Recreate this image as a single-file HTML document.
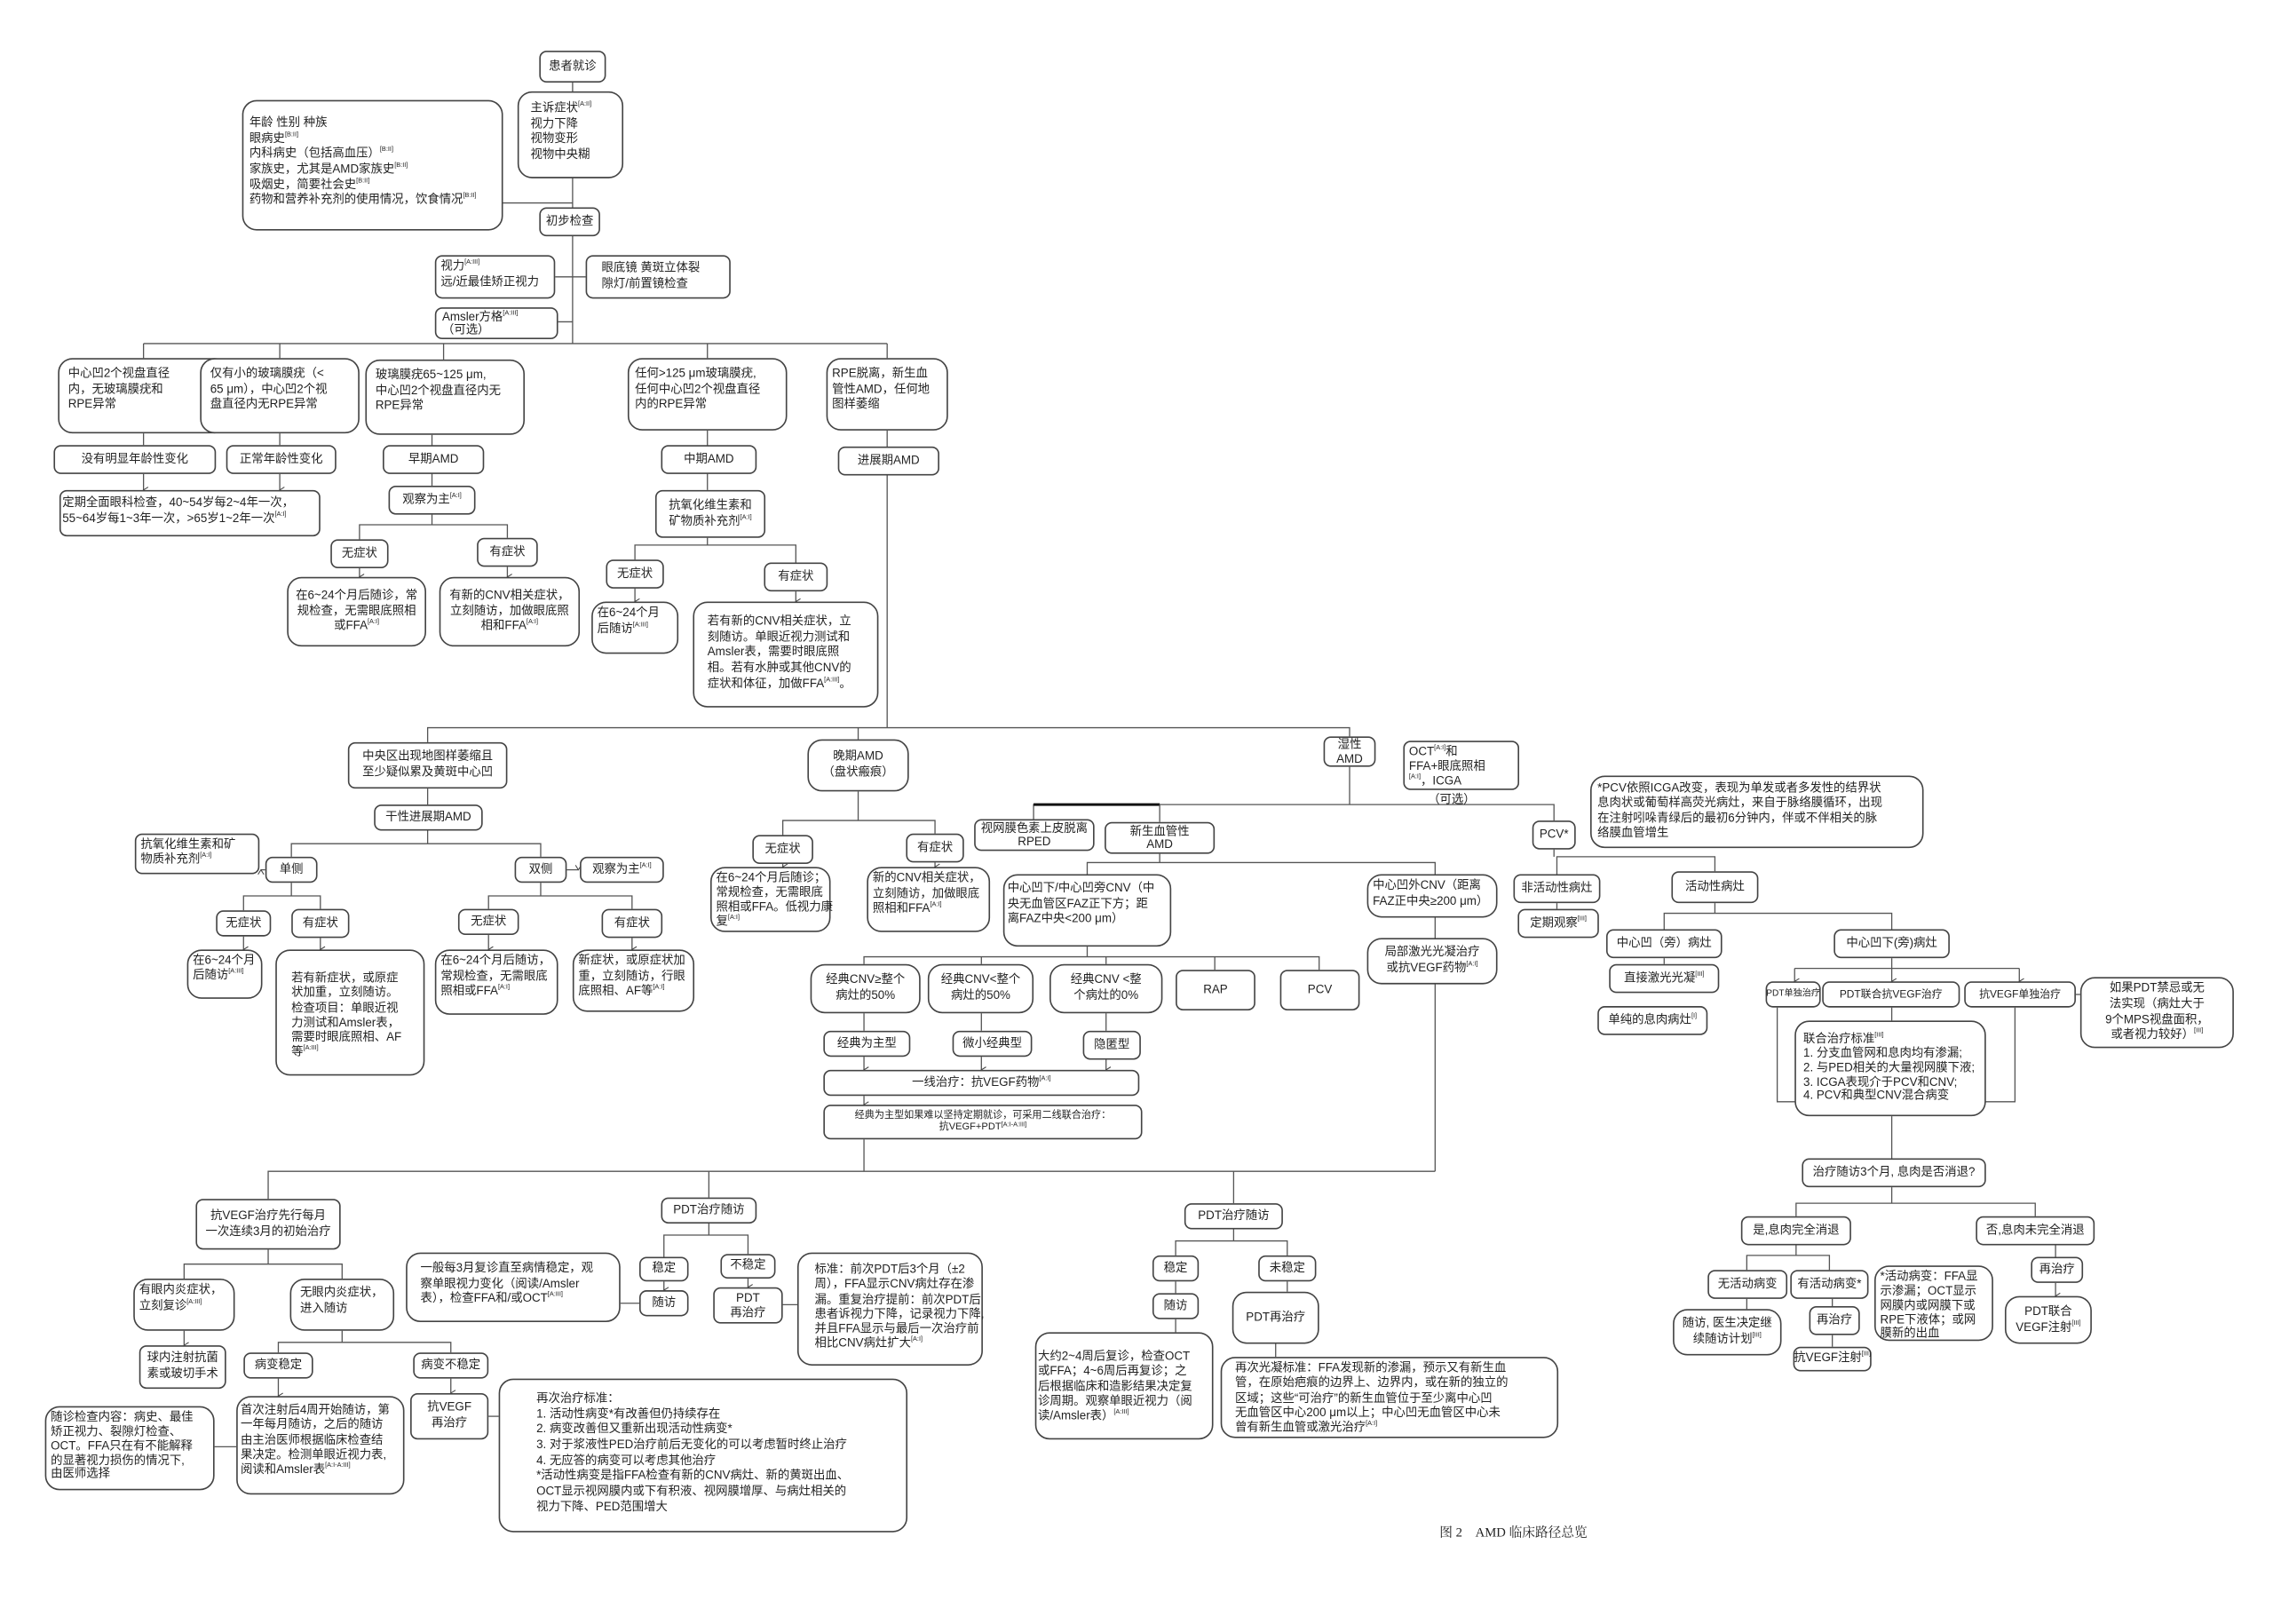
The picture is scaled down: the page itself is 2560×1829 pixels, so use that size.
<!DOCTYPE html>
<html><head><meta charset="utf-8">
<style>
html,body{margin:0;padding:0;background:#fff;}
body{width:2560px;height:1829px;overflow:hidden;position:relative;}
#w{position:absolute;left:0;top:0;width:1568px;height:1120px;transform:scale(1.63265);transform-origin:0 0;font-family:"Liberation Sans","Noto Sans CJK SC",sans-serif;color:#222;}
.b{position:absolute;box-sizing:border-box;border:1px solid #444;border-radius:5px;background:#fff;font-size:8.2px;line-height:1.3;padding:2px 3px;white-space:nowrap;}
.c{text-align:center;display:flex;align-items:center;justify-content:center;padding:1px;}
.c>span{display:block;}
.s{font-size:7.3px;}
.r{border-radius:10px;}
sup{font-size:4.5px;vertical-align:top;line-height:1;}
svg{position:absolute;left:0;top:0;}
svg line,svg polyline{stroke:#555;stroke-width:0.8;fill:none;}
.cap{position:absolute;left:993px;top:1050px;font-family:"Liberation Serif","Noto Serif CJK SC",serif;font-size:9px;}
</style></head><body><div id="w">
<svg width="1568" height="1120">
<defs><marker id="a" markerWidth="6" markerHeight="6" refX="3" refY="5" orient="auto"><polyline points="0.5,1 3,5 5.5,1" style="stroke:#444;stroke-width:0.8;fill:none"/></marker></defs>
<line x1="395" y1="57" x2="395" y2="237"/><line x1="347" y1="140" x2="395" y2="140"/>
<line x1="383" y1="191" x2="404" y2="191"/><line x1="385" y1="222" x2="395" y2="222"/>
<line x1="99" y1="237" x2="612" y2="237"/>
<line x1="99" y1="237" x2="99" y2="247"/><line x1="193" y1="237" x2="193" y2="247"/><line x1="306" y1="237" x2="306" y2="248"/><line x1="488" y1="237" x2="488" y2="247"/><line x1="612" y1="237" x2="612" y2="247"/>
<line x1="99" y1="299" x2="99" y2="307"/><line x1="99" y1="327" x2="99" y2="338" marker-end="url(#a)"/>
<line x1="193" y1="299" x2="193" y2="307"/><line x1="193" y1="327" x2="193" y2="338" marker-end="url(#a)"/>
<line x1="298" y1="300" x2="298" y2="335"/><polyline points="248,372 248,362 350,362 350,371"/><line x1="298" y1="355" x2="298" y2="362"/>
<line x1="248" y1="392" x2="248" y2="398" marker-end="url(#a)"/><line x1="350" y1="391" x2="350" y2="398" marker-end="url(#a)"/>
<line x1="488" y1="297" x2="488" y2="338"/><polyline points="438,386 438,376 549,376 549,388"/><line x1="488" y1="371" x2="488" y2="376"/>
<line x1="438" y1="406" x2="438" y2="415" marker-end="url(#a)"/><line x1="549" y1="408" x2="549" y2="415" marker-end="url(#a)"/>
<line x1="612" y1="297" x2="612" y2="502"/>
<polyline points="295,512 295,502 931,502 931,508"/><line x1="592" y1="502" x2="592" y2="510"/>
<line x1="295" y1="544" x2="295" y2="555"/><line x1="295" y1="573" x2="295" y2="582"/><polyline points="201,591 201,582 373,582 373,591"/>
<line x1="183" y1="600" x2="180" y2="600" marker-end="url(#a)"/><line x1="391" y1="600" x2="399" y2="600" marker-end="url(#a)"/>
<line x1="201" y1="609" x2="201" y2="618"/><polyline points="168,628 168,618 221,618 221,627"/>
<line x1="168" y1="646" x2="168" y2="655" marker-end="url(#a)"/><line x1="221" y1="647" x2="221" y2="655" marker-end="url(#a)"/>
<line x1="373" y1="609" x2="373" y2="618"/><polyline points="337,627 337,618 436,618 436,627"/>
<line x1="337" y1="645" x2="337" y2="655" marker-end="url(#a)"/><line x1="436" y1="647" x2="436" y2="655" marker-end="url(#a)"/>
<line x1="592" y1="546" x2="592" y2="566"/><polyline points="540,576 540,566 645,566 645,575"/>
<line x1="540" y1="596" x2="540" y2="598" marker-end="url(#a)"/><line x1="645" y1="595" x2="645" y2="598" marker-end="url(#a)"/>
<line x1="931" y1="529" x2="931" y2="555"/><polyline points="713,565 713,555 1072,555 1072,566"/><line x1="713" y1="555" x2="800" y2="555" style="stroke:#111;stroke-width:1.8"/><line x1="800" y1="555" x2="800" y2="567"/>
<line x1="800" y1="589" x2="800" y2="595"/><polyline points="750,603 750,595 990,595 990,603"/>
<line x1="750" y1="653" x2="750" y2="660"/><polyline points="596,665 596,660 910,660 910,669"/><line x1="677" y1="660" x2="677" y2="665"/><line x1="763" y1="660" x2="763" y2="665"/><line x1="838" y1="660" x2="838" y2="669"/>
<line x1="596" y1="699" x2="596" y2="711"/><line x1="677" y1="699" x2="677" y2="711"/><line x1="763" y1="699" x2="763" y2="711"/>
<line x1="596" y1="729" x2="596" y2="738" marker-end="url(#a)"/><line x1="677" y1="729" x2="677" y2="738" marker-end="url(#a)"/><line x1="763" y1="731" x2="763" y2="738" marker-end="url(#a)"/>
<line x1="596" y1="756" x2="596" y2="762" marker-end="url(#a)"/><line x1="596" y1="786" x2="596" y2="808"/>
<line x1="990" y1="633" x2="990" y2="808"/><polyline points="185,827 185,808 990,808"/><line x1="489" y1="808" x2="489" y2="826"/><line x1="851" y1="808" x2="851" y2="830"/>
<line x1="1072" y1="586" x2="1072" y2="591"/><polyline points="1074,603 1074,591 1183,591 1183,601"/><line x1="1074" y1="623" x2="1074" y2="627"/>
<line x1="1183" y1="623" x2="1183" y2="630"/><polyline points="1148,641 1148,630 1305,630 1305,641"/><line x1="1148" y1="661" x2="1148" y2="665"/>
<line x1="1305" y1="661" x2="1305" y2="668"/><line x1="1238" y1="668" x2="1393" y2="668"/>
<line x1="1238" y1="668" x2="1238" y2="677" marker-end="url(#a)"/><line x1="1305" y1="668" x2="1305" y2="677" marker-end="url(#a)"/><line x1="1393" y1="668" x2="1393" y2="677" marker-end="url(#a)"/>
<polyline points="1226,695 1226,760 1390,760 1390,695"/><line x1="1305" y1="695" x2="1305" y2="704"/><line x1="1305" y1="770" x2="1305" y2="799"/><line x1="1432" y1="686" x2="1435" y2="686"/>
<line x1="1305" y1="819" x2="1305" y2="830"/><polyline points="1239,839 1239,830 1404,830 1404,839"/>
<line x1="1239" y1="859" x2="1239" y2="866"/><polyline points="1205,876 1205,866 1262,866 1262,876"/>
<line x1="1205" y1="896" x2="1205" y2="903"/><line x1="1264" y1="896" x2="1264" y2="901"/><line x1="1264" y1="921" x2="1264" y2="929"/>
<line x1="1418" y1="859" x2="1418" y2="867"/><line x1="1418" y1="885" x2="1418" y2="894" marker-end="url(#a)"/>
<line x1="185" y1="862" x2="185" y2="872"/><polyline points="127,882 127,872 236,872 236,882"/><line x1="127" y1="918" x2="127" y2="928" marker-end="url(#a)"/>
<line x1="236" y1="918" x2="236" y2="926"/><polyline points="192,933 192,926 311,926 311,933"/>
<line x1="192" y1="951" x2="192" y2="963" marker-end="url(#a)"/><line x1="311" y1="951" x2="311" y2="961" marker-end="url(#a)"/>
<line x1="148" y1="998" x2="163" y2="998"/><line x1="337" y1="977" x2="344" y2="977"/>
<line x1="489" y1="844" x2="489" y2="852"/><polyline points="458,867 458,852 516,852 516,865"/>
<line x1="458" y1="884" x2="458" y2="890" marker-end="url(#a)"/><line x1="428" y1="899" x2="441" y2="899"/><line x1="516" y1="882" x2="516" y2="888" marker-end="url(#a)"/><line x1="540" y1="900" x2="550" y2="900"/>
<line x1="851" y1="848" x2="851" y2="856"/><polyline points="811,866 811,856 888,856 888,866"/>
<line x1="811" y1="884" x2="811" y2="892"/><line x1="811" y1="910" x2="811" y2="919"/><line x1="888" y1="884" x2="888" y2="891"/><line x1="880" y1="927" x2="880" y2="936"/>
</svg>

<div class="b c" style="left:372px;top:35px;width:46px;height:22px"><span>患者就诊</span></div>
<div class="b r" style="left:357px;top:63px;width:73px;height:60px;padding:6px 8px">主诉症状<sup>[A:II]</sup><br>视力下降<br>视物变形<br>视物中央糊</div>
<div class="b r" style="left:167px;top:69px;width:180px;height:90px;padding:10px 4px">年龄 性别 种族<br>眼病史<sup>[B:II]</sup><br>内科病史（包括高血压）<sup>[B:II]</sup><br>家族史，尤其是AMD家族史<sup>[B:II]</sup><br>吸烟史，简要社会史<sup>[B:II]</sup><br>药物和营养补充剂的使用情况，饮食情况<sup>[B:II]</sup></div>
<div class="b c" style="left:372px;top:143px;width:42px;height:20px"><span>初步检查</span></div>
<div class="b" style="left:300px;top:176px;width:83px;height:30px">视力<sup>[A:III]</sup><br>远/近最佳矫正视力</div>
<div class="b" style="left:404px;top:176px;width:100px;height:30px;padding:3px 10px">眼底镜 黄斑立体裂<br>隙灯/前置镜检查</div>
<div class="b" style="left:300px;top:212px;width:85px;height:22px;line-height:1.1;padding:1px 4px">Amsler方格<sup>[A:III]</sup><br>（可选）</div>

<div class="b r" style="left:40px;top:247px;width:118px;height:52px;padding:5px 6px">中心凹2个视盘直径<br>内，无玻璃膜疣和<br>RPE异常</div>
<div class="b r" style="left:138px;top:247px;width:110px;height:52px;padding:5px 6px">仅有小的玻璃膜疣（&lt;<br>65 μm），中心凹2个视<br>盘直径内无RPE异常</div>
<div class="b r" style="left:252px;top:248px;width:110px;height:52px;padding:5px 6px">玻璃膜疣65~125 μm,<br>中心凹2个视盘直径内无<br>RPE异常</div>
<div class="b r" style="left:433px;top:247px;width:110px;height:50px;padding:5px 4px">任何&gt;125 μm玻璃膜疣,<br>任何中心凹2个视盘直径<br>内的RPE异常</div>
<div class="b r" style="left:570px;top:247px;width:84px;height:50px;padding:5px 3px">RPE脱离，新生血<br>管性AMD，任何地<br>图样萎缩</div>

<div class="b c" style="left:37px;top:307px;width:112px;height:20px"><span>没有明显年龄性变化</span></div>
<div class="b c" style="left:156px;top:307px;width:76px;height:20px"><span>正常年龄性变化</span></div>
<div class="b c" style="left:264px;top:307px;width:70px;height:20px"><span>早期AMD</span></div>
<div class="b c" style="left:456px;top:307px;width:66px;height:20px"><span>中期AMD</span></div>
<div class="b c" style="left:578px;top:308px;width:70px;height:20px"><span>进展期AMD</span></div>
<div class="b" style="left:41px;top:338px;width:180px;height:32px;padding:3px 1px">定期全面眼科检查，40~54岁每2~4年一次，<br>55~64岁每1~3年一次，&gt;65岁1~2年一次<sup>[A:I]</sup></div>
<div class="b c" style="left:268px;top:335px;width:60px;height:20px"><span>观察为主<sup>[A:I]</sup></span></div>
<div class="b c" style="left:452px;top:338px;width:76px;height:33px"><span>抗氧化维生素和<br>矿物质补充剂<sup>[A:I]</sup></span></div>
<div class="b c" style="left:228px;top:372px;width:40px;height:20px"><span>无症状</span></div>
<div class="b c" style="left:329px;top:371px;width:42px;height:20px"><span>有症状</span></div>
<div class="b c r" style="left:198px;top:398px;width:96px;height:48px"><span>在6~24个月后随诊，常<br>规检查，无需眼底照相<br>或FFA<sup>[A:I]</sup></span></div>
<div class="b c r" style="left:303px;top:398px;width:97px;height:48px"><span>有新的CNV相关症状，<br>立刻随访，加做眼底照<br>相和FFA<sup>[A:I]</sup></span></div>
<div class="b c" style="left:418px;top:386px;width:40px;height:20px"><span>无症状</span></div>
<div class="b c" style="left:527px;top:388px;width:44px;height:20px"><span>有症状</span></div>
<div class="b r" style="left:408px;top:415px;width:60px;height:36px">在6~24个月<br>后随访<sup>[A:III]</sup></div>
<div class="b r" style="left:478px;top:415px;width:128px;height:73px;padding:8px 9px">若有新的CNV相关症状，立<br>刻随访。单眼近视力测试和<br>Amsler表，需要时眼底照<br>相。若有水肿或其他CNV的<br>症状和体征，加做FFA<sup>[A:III]</sup>。</div>

<div class="b c" style="left:240px;top:512px;width:110px;height:32px"><span>中央区出现地图样萎缩且<br>至少疑似累及黄斑中心凹</span></div>
<div class="b c r" style="left:557px;top:510px;width:70px;height:36px"><span>晚期AMD<br>（盘状瘢痕）</span></div>
<div class="b c" style="left:913px;top:508px;width:36px;height:21px;line-height:1.1"><span>湿性<br>AMD</span></div>
<div class="b" style="left:968px;top:511px;width:80px;height:34px;line-height:1.2">OCT<sup>[A:I]</sup>和<br>FFA+眼底照相<br><sup>[A:I]</sup>，ICGA</div>
<div style="position:absolute;left:985px;top:545px;font-size:8.2px">（可选）</div>
<div class="b c" style="left:258px;top:555px;width:75px;height:18px"><span>干性进展期AMD</span></div>
<div class="b" style="left:93px;top:575px;width:86px;height:28px;line-height:1.2">抗氧化维生素和矿<br>物质补充剂<sup>[A:I]</sup></div>
<div class="b c" style="left:183px;top:591px;width:36px;height:18px"><span>单侧</span></div>
<div class="b c" style="left:355px;top:591px;width:36px;height:18px"><span>双侧</span></div>
<div class="b c" style="left:400px;top:591px;width:58px;height:18px"><span>观察为主<sup>[A:I]</sup></span></div>
<div class="b c" style="left:149px;top:628px;width:38px;height:18px"><span>无症状</span></div>
<div class="b c" style="left:201px;top:627px;width:40px;height:20px"><span>有症状</span></div>
<div class="b c" style="left:316px;top:627px;width:42px;height:18px"><span>无症状</span></div>
<div class="b c" style="left:415px;top:627px;width:42px;height:20px"><span>有症状</span></div>
<div class="b r" style="left:129px;top:655px;width:52px;height:34px;line-height:1.2">在6~24个月<br>后随访<sup>[A:III]</sup></div>
<div class="b r" style="left:190px;top:655px;width:103px;height:87px;padding:14px 10px;line-height:1.25">若有新症状，或原症<br>状加重，立刻随访。<br>检查项目：单眼近视<br>力测试和Amsler表，<br>需要时眼底照相、AF<br>等<sup>[A:III]</sup></div>
<div class="b r" style="left:300px;top:655px;width:85px;height:45px">在6~24个月后随访，<br>常规检查，无需眼底<br>照相或FFA<sup>[A:I]</sup></div>
<div class="b r" style="left:395px;top:655px;width:84px;height:43px">新症状，或原症状加<br>重，立刻随访，行眼<br>底照相、AF等<sup>[A:I]</sup></div>
<div class="b c" style="left:519px;top:576px;width:42px;height:20px"><span>无症状</span></div>
<div class="b c" style="left:625px;top:575px;width:40px;height:20px"><span>有症状</span></div>
<div class="b r" style="left:490px;top:598px;width:83px;height:45px;line-height:1.2">在6~24个月后随诊；<br>常规检查，无需眼底<br>照相或FFA。低视力康<br>复<sup>[A:I]</sup></div>
<div class="b r" style="left:598px;top:598px;width:85px;height:45px">新的CNV相关症状，<br>立刻随访，加做眼底<br>照相和FFA<sup>[A:I]</sup></div>

<div class="b c" style="left:672px;top:565px;width:83px;height:22px;line-height:1.1"><span>视网膜色素上皮脱离<br>RPED</span></div>
<div class="b c" style="left:762px;top:567px;width:76px;height:22px;line-height:1.1"><span>新生血管性<br>AMD</span></div>
<div class="b c" style="left:1057px;top:566px;width:30px;height:20px"><span>PCV*</span></div>
<div class="b r" style="left:1097px;top:535px;width:230px;height:50px;padding:3px 4px;line-height:1.25">*PCV依照ICGA改变，表现为单发或者多发性的结界状<br>息肉状或葡萄样高荧光病灶，来自于脉络膜循环，出现<br>在注射吲哚青绿后的最初6分钟内，伴或不伴相关的脉<br>络膜血管增生</div>
<div class="b r" style="left:692px;top:603px;width:116px;height:50px;padding:4px 2px">中心凹下/中心凹旁CNV（中<br>央无血管区FAZ正下方；距<br>离FAZ中央&lt;200 μm）</div>
<div class="b r" style="left:943px;top:603px;width:90px;height:30px">中心凹外CNV（距离<br>FAZ正中央≥200 μm）</div>
<div class="b c r" style="left:943px;top:647px;width:90px;height:32px"><span>局部激光光凝治疗<br>或抗VEGF药物<sup>[A:I]</sup></span></div>
<div class="b c" style="left:1044px;top:603px;width:60px;height:20px"><span>非活动性病灶</span></div>
<div class="b c" style="left:1047px;top:627px;width:56px;height:20px"><span>定期观察<sup>[III]</sup></span></div>
<div class="b c" style="left:1153px;top:601px;width:60px;height:22px"><span>活动性病灶</span></div>
<div class="b c r" style="left:559px;top:665px;width:76px;height:34px"><span>经典CNV≥整个<br>病灶的50%</span></div>
<div class="b c r" style="left:640px;top:665px;width:73px;height:34px"><span>经典CNV&lt;整个<br>病灶的50%</span></div>
<div class="b c r" style="left:724px;top:665px;width:78px;height:34px"><span>经典CNV &lt;整<br>个病灶的0%</span></div>
<div class="b c" style="left:811px;top:669px;width:55px;height:28px"><span>RAP</span></div>
<div class="b c" style="left:883px;top:669px;width:55px;height:28px"><span>PCV</span></div>
<div class="b c" style="left:568px;top:711px;width:60px;height:18px"><span>经典为主型</span></div>
<div class="b c" style="left:657px;top:711px;width:55px;height:18px"><span>微小经典型</span></div>
<div class="b c" style="left:747px;top:711px;width:40px;height:20px"><span>隐匿型</span></div>
<div class="b c" style="left:568px;top:738px;width:218px;height:18px"><span>一线治疗：抗VEGF药物<sup>[A:I]</sup></span></div>
<div class="b c" style="left:568px;top:762px;width:220px;height:24px;font-size:6.8px;line-height:1.2"><span>经典为主型如果难以坚持定期就诊，可采用二线联合治疗：<br>抗VEGF+PDT<sup>[A:I-A:III]</sup></span></div>

<div class="b c" style="left:1108px;top:641px;width:80px;height:20px"><span>中心凹（旁）病灶</span></div>
<div class="b c" style="left:1265px;top:641px;width:80px;height:20px"><span>中心凹下(旁)病灶</span></div>
<div class="b c" style="left:1110px;top:665px;width:76px;height:20px"><span>直接激光光凝<sup>[III]</sup></span></div>
<div class="b c" style="left:1102px;top:694px;width:76px;height:20px"><span>单纯的息肉病灶<sup>[I]</sup></span></div>
<div class="b c" style="left:1218px;top:677px;width:38px;height:18px;font-size:6.2px"><span>PDT单独治疗</span></div>
<div class="b c s" style="left:1257px;top:677px;width:95px;height:18px"><span>PDT联合抗VEGF治疗</span></div>
<div class="b c s" style="left:1355px;top:677px;width:77px;height:18px"><span>抗VEGF单独治疗</span></div>
<div class="b c r" style="left:1435px;top:674px;width:106px;height:49px"><span>如果PDT禁忌或无<br>法实现（病灶大于<br>9个MPS视盘面积，<br>或者视力较好）<sup>[III]</sup></span></div>
<div class="b r" style="left:1238px;top:704px;width:132px;height:66px;padding:7px 5px;line-height:1.2">联合治疗标准<sup>[III]</sup><br>1. 分支血管网和息肉均有渗漏;<br>2. 与PED相关的大量视网膜下液;<br>3. ICGA表现介于PCV和CNV;<br>4. PCV和典型CNV混合病变</div>
<div class="b c" style="left:1243px;top:799px;width:127px;height:20px"><span>治疗随访3个月, 息肉是否消退?</span></div>
<div class="b c" style="left:1201px;top:839px;width:76px;height:20px"><span>是,息肉完全消退</span></div>
<div class="b c" style="left:1363px;top:839px;width:82px;height:20px"><span>否,息肉未完全消退</span></div>
<div class="b c" style="left:1178px;top:876px;width:55px;height:20px"><span>无活动病变</span></div>
<div class="b c" style="left:1235px;top:876px;width:54px;height:20px"><span>有活动病变*</span></div>
<div class="b c r" style="left:1154px;top:903px;width:75px;height:32px"><span>随访, 医生决定继<br>续随访计划<sup>[III]</sup></span></div>
<div class="b c" style="left:1248px;top:901px;width:35px;height:20px"><span>再治疗</span></div>
<div class="b c" style="left:1237px;top:929px;width:54px;height:17px"><span>抗VEGF注射<sup>[III]</sup></span></div>
<div class="b r" style="left:1293px;top:873px;width:82px;height:52px;line-height:1.2">*活动病变：FFA显<br>示渗漏；OCT显示<br>网膜内或网膜下或<br>RPE下液体；或网<br>膜新的出血</div>
<div class="b c" style="left:1401px;top:867px;width:36px;height:18px"><span>再治疗</span></div>
<div class="b c r" style="left:1383px;top:894px;width:60px;height:33px"><span>PDT联合<br>VEGF注射<sup>[III]</sup></span></div>

<div class="b c" style="left:135px;top:827px;width:100px;height:35px"><span>抗VEGF治疗先行每月<br>一次连续3月的初始治疗</span></div>
<div class="b c" style="left:456px;top:826px;width:66px;height:18px"><span>PDT治疗随访</span></div>
<div class="b c" style="left:817px;top:830px;width:68px;height:18px"><span>PDT治疗随访</span></div>
<div class="b r" style="left:92px;top:882px;width:70px;height:36px">有眼内炎症状，<br>立刻复诊<sup>[A:III]</sup></div>
<div class="b r" style="left:200px;top:882px;width:72px;height:36px;padding:4px 6px">无眼内炎症状，<br>进入随访</div>
<div class="b c" style="left:96px;top:928px;width:60px;height:30px"><span>球内注射抗菌<br>素或玻切手术</span></div>
<div class="b c" style="left:168px;top:933px;width:48px;height:18px"><span>病变稳定</span></div>
<div class="b c" style="left:285px;top:933px;width:52px;height:18px"><span>病变不稳定</span></div>
<div class="b r" style="left:31px;top:970px;width:117px;height:58px;line-height:1.2">随诊检查内容：病史、最佳<br>矫正视力、裂隙灯检查、<br>OCT。FFA只在有不能解释<br>的显著视力损伤的情况下,<br>由医师选择</div>
<div class="b r" style="left:163px;top:963px;width:116px;height:68px;line-height:1.25;padding:4px 2px">首次注射后4周开始随访，第<br>一年每月随访，之后的随访<br>由主治医师根据临床检查结<br>果决定。检测单眼近视力表,<br>阅读和Amsler表<sup>[A:I-A:III]</sup></div>
<div class="b c" style="left:283px;top:961px;width:54px;height:32px"><span>抗VEGF<br>再治疗</span></div>
<div class="b r" style="left:344px;top:951px;width:282px;height:106px;padding:8px 25px;line-height:1.3">再次治疗标准：<br>1. 活动性病变*有改善但仍持续存在<br>2. 病变改善但又重新出现活动性病变*<br>3. 对于浆液性PED治疗前后无变化的可以考虑暂时终止治疗<br>4. 无应答的病变可以考虑其他治疗<br>*活动性病变是指FFA检查有新的CNV病灶、新的黄斑出血、<br>OCT显示视网膜内或下有积液、视网膜增厚、与病灶相关的<br>视力下降、PED范围增大</div>
<div class="b r" style="left:280px;top:864px;width:148px;height:48px;padding:5px 9px">一般每3月复诊直至病情稳定，观<br>察单眼视力变化（阅读/Amsler<br>表），检查FFA和/或OCT<sup>[A:III]</sup></div>
<div class="b c" style="left:441px;top:867px;width:34px;height:17px"><span>稳定</span></div>
<div class="b c" style="left:441px;top:890px;width:34px;height:18px"><span>随访</span></div>
<div class="b c" style="left:497px;top:865px;width:38px;height:17px"><span>不稳定</span></div>
<div class="b c" style="left:492px;top:888px;width:48px;height:25px;line-height:1.1"><span>PDT<br>再治疗</span></div>
<div class="b r" style="left:550px;top:864px;width:128px;height:78px;padding:6px 11px;line-height:1.25">标准：前次PDT后3个月（±2<br>周），FFA显示CNV病灶存在渗<br>漏。重复治疗提前：前次PDT后<br>患者诉视力下降，记录视力下降,<br>并且FFA显示与最后一次治疗前<br>相比CNV病灶扩大<sup>[A:I]</sup></div>
<div class="b c" style="left:795px;top:866px;width:32px;height:18px"><span>稳定</span></div>
<div class="b c" style="left:795px;top:892px;width:32px;height:18px"><span>随访</span></div>
<div class="b c" style="left:868px;top:866px;width:40px;height:18px"><span>未稳定</span></div>
<div class="b c r" style="left:850px;top:891px;width:60px;height:36px"><span>PDT再治疗</span></div>
<div class="b r" style="left:714px;top:919px;width:123px;height:74px;padding:11px 1px;line-height:1.25">大约2~4周后复诊，检查OCT<br>或FFA；4~6周后再复诊；之<br>后根据临床和造影结果决定复<br>诊周期。观察单眼近视力（阅<br>读/Amsler表）<sup>[A:III]</sup></div>
<div class="b r" style="left:842px;top:936px;width:233px;height:56px;padding:2px 9px;line-height:1.25">再次光凝标准：FFA发现新的渗漏，预示又有新生血<br>管，在原始疤痕的边界上、边界内，或在新的独立的<br>区域；这些“可治疗”的新生血管位于至少离中心凹<br>无血管区中心200 μm以上；中心凹无血管区中心未<br>曾有新生血管或激光治疗<sup>[A:I]</sup></div>
<div class="cap">图 2　AMD 临床路径总览</div>
</div></body></html>
